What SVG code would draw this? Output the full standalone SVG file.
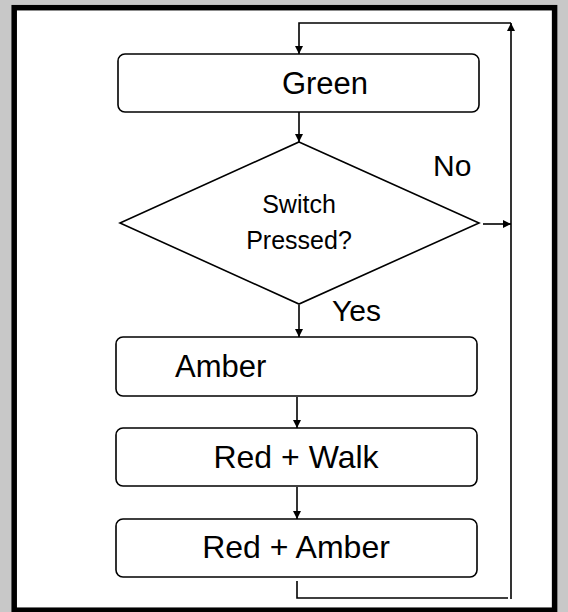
<svg xmlns="http://www.w3.org/2000/svg" width="568" height="612" viewBox="0 0 568 612">
<style>
.box{fill:#fff;stroke:#000;stroke-width:1.6}
.t{font-family:"Liberation Sans",Arial,sans-serif;fill:#000}
.c{fill:none;stroke:#000;stroke-width:1.6}
</style>
<defs>
<marker id="ah" viewBox="0 0 10 10" refX="10" refY="5" markerWidth="5" markerHeight="5" orient="auto" markerUnits="strokeWidth">
<path d="M0,0 L10,5 L0,10 z" fill="#000"/>
</marker>
</defs>
<rect x="0" y="0" width="568" height="612" fill="#c8c8c8"/>
<rect x="14.2" y="7.7" width="540.4" height="602.5" fill="#fff" stroke="#000" stroke-width="5.5"/>
<g id="green">
<rect class="box" x="118" y="54" width="361" height="58" rx="7"/>
<text class="t" x="325" y="94" font-size="31" text-anchor="middle">Green</text>
</g>
<g id="decision">
<polygon class="box" points="299,142 479,223 299,304 120,223"/>
<text class="t" x="299" y="213" font-size="25" text-anchor="middle">Switch</text>
<text class="t" x="299" y="249" font-size="25" text-anchor="middle">Pressed?</text>
</g>
<g id="amber">
<rect class="box" x="116" y="337" width="361" height="59" rx="7"/>
<text class="t" x="175" y="377" font-size="31">Amber</text>
</g>
<g id="redwalk">
<rect class="box" x="116" y="428" width="361" height="58" rx="7"/>
<text class="t" x="296" y="468" font-size="32" text-anchor="middle">Red + Walk</text>
</g>
<g id="redamber">
<rect class="box" x="116" y="519" width="361" height="58" rx="7"/>
<text class="t" x="296" y="558" font-size="32" text-anchor="middle">Red + Amber</text>
</g>
<g id="labels">
<text class="t" x="433" y="176" font-size="30">No</text>
<text class="t" x="332" y="321" font-size="30">Yes</text>
</g>
<g id="connectors">
<line class="c" x1="299" y1="112" x2="299" y2="142" marker-end="url(#ah)"/>
<line class="c" x1="299" y1="305" x2="299" y2="337" marker-end="url(#ah)"/>
<line class="c" x1="297" y1="397" x2="297" y2="428" marker-end="url(#ah)"/>
<line class="c" x1="297" y1="487" x2="297" y2="519" marker-end="url(#ah)"/>
<line class="c" x1="483" y1="224" x2="511" y2="224" marker-end="url(#ah)"/>
<polyline class="c" points="297,581 297,598 508,598"/>
<line class="c" x1="511" y1="599" x2="511" y2="23" marker-end="url(#ah)"/>
<polyline class="c" points="511,23 299,23 299,54" marker-end="url(#ah)"/>
</g>
</svg>
